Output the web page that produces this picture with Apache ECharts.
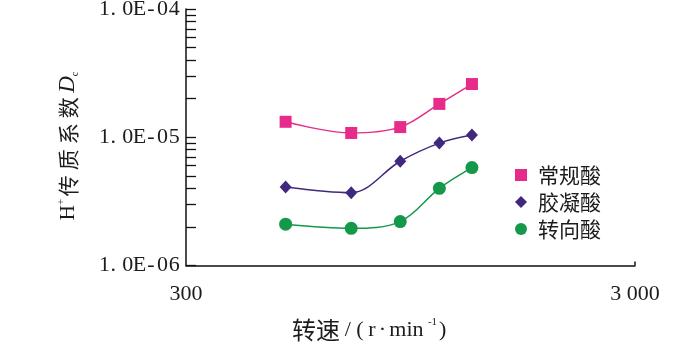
<!DOCTYPE html>
<html>
<head>
<meta charset="utf-8">
<script src="https://cdn.jsdelivr.net/npm/echarts@6/dist/echarts.min.js"></script>
<style>
  html, body { margin: 0; padding: 0; background: #fff; }
  #chart { width: 700px; height: 348px; }
</style>
</head>
<body>
<div id="chart"></div>
<script>
// Rotational speed (r/min) of each measurement
const speeds = [500, 700, 900, 1100, 1300];
const seriesNames = ['常规酸', '胶凝酸', '转向酸'];
// H+ mass transfer coefficient De for each acid system
const conventionalAcid = [1.32e-5, 1.08e-5, 1.20e-5, 1.82e-5, 2.60e-5];
const gelledAcid = [4.1e-6, 3.7e-6, 6.5e-6, 9.0e-6, 1.04e-5];
const divertingAcid = [2.1e-6, 1.95e-6, 2.2e-6, 4.0e-6, 5.8e-6];
// Axis labels
const yTickValues = [1e-6, 1e-5, 1e-4];
const yTickLabels = ['1.0E-06', '1.0E-05', '1.0E-04'];
const xTickValues = [300, 3000];
const xTickLabels = ['300', '3 000'];

const SERIF = 'Liberation Serif';
const CJK = 'Noto Sans CJK SC';
const INK = '#1c1c1c';

// Decade ticks 1..9 x 10^n across the y range
const yTicks = [];
for (let e = -6; e < -4; e++) {
  for (let k = 1; k <= 9; k++) yTicks.push(k * Math.pow(10, e));
}
yTicks.push(1e-4);

// Half-width cell layout: every character centred in its own cell,
// a full stop sits at the left of its cell
function cells(text, key, dotKey) {
  return text.split('').map(function (ch) {
    const k = (ch === '.' && dotKey) ? dotKey : key;
    return '{' + k + '|' + ch + '}';
  }).join('');
}

function pairs(values) {
  return speeds.map(function (s, i) { return [s, values[i]]; });
}

const chart = echarts.init(document.getElementById('chart'), null, { renderer: 'canvas' });

const latin = function (w) {
  return { fontFamily: SERIF, fontSize: 22, fill: INK, width: w, align: 'center', lineHeight: 26 };
};

chart.setOption({
  animation: false,
  backgroundColor: '#fff',
  grid: { left: 186, right: 65, top: 9, bottom: 82.5, containLabel: false, outerBoundsMode: 'none' },
  xAxis: {
    type: 'log',
    logBase: 10,
    min: 300,
    max: 3000,
    axisLine: { show: true, lineStyle: { color: '#111', width: 1.5 } },
    axisTick: { show: true, inside: true, length: 4, customValues: [3000], lineStyle: { color: '#111', width: 1.5 } },
    axisLabel: {
      customValues: xTickValues,
      margin: 18,
      color: INK,
      fontFamily: SERIF,
      fontSize: 22,
      formatter: function (v) {
        const i = xTickValues.findIndex(function (t) { return Math.abs(t - v) / t < 1e-6; });
        return i >= 0 ? xTickLabels[i] : '';
      }
    },
    splitLine: { show: false },
    minorTick: { show: false }
  },
  yAxis: {
    type: 'log',
    logBase: 10,
    min: 1e-6,
    max: 1e-4,
    axisLine: { show: true, lineStyle: { color: '#111', width: 1.5 } },
    axisTick: { show: true, inside: true, length: 10, customValues: yTicks, lineStyle: { color: '#111', width: 1.3 } },
    axisLabel: {
      customValues: yTickValues,
      margin: 6,
      formatter: function (v) {
        const i = yTickValues.findIndex(function (t) { return Math.abs(t - v) / t < 1e-6; });
        return i >= 0 ? cells(yTickLabels[i], 'c', 'p') : '';
      },
      rich: {
        c: { width: 11.6, align: 'center', fontFamily: SERIF, fontSize: 22, color: INK },
        p: { width: 5.6, padding: [0, 6, 0, 0], align: 'center', fontFamily: SERIF, fontSize: 22, color: INK }
      }
    },
    splitLine: { show: false }
  },
  legend: {
    orient: 'vertical',
    left: 510,
    top: 159,
    itemWidth: 12,
    itemHeight: 12,
    itemGap: 5,
    data: [
      { name: seriesNames[0], icon: 'rect' },
      { name: seriesNames[1], icon: 'diamond' },
      { name: seriesNames[2], icon: 'circle' }
    ],
    textStyle: { fontFamily: CJK, fontSize: 21, color: INK, lineHeight: 22, padding: [0, 0, 0, 6] }
  },
  graphic: [
    {
      // y-axis title: H+ 传质系数 De
      type: 'text',
      x: 68,
      y: 146,
      rotation: Math.PI / 2,
      style: {
        text: '{h|H}{sup|+}' + cells('传质系数', 'cn') + '{d|D}{sub|c}',
        align: 'center',
        verticalAlign: 'middle',
        rich: {
          h: { fontFamily: SERIF, fontSize: 21, fill: INK, lineHeight: 24 },
          sup: { fontFamily: SERIF, fontSize: 11, fill: INK, verticalAlign: 'top', lineHeight: 12 },
          cn: { fontFamily: CJK, fontSize: 21, fill: INK, width: 26, align: 'center', lineHeight: 24 },
          d: { fontFamily: SERIF, fontSize: 23, fontStyle: 'italic', fill: INK, lineHeight: 24, padding: [0, 0, 0, 2] },
          sub: { fontFamily: SERIF, fontSize: 10, fill: INK, verticalAlign: 'bottom', lineHeight: 12 }
        }
      }
    },
    {
      // x-axis title: 转速/(r·min-1)
      type: 'text',
      x: 370,
      y: 330,
      style: {
        text: '{cn|转速}{w12|/}{w12|(}{w12|r}{w9|·}{w39|min}{sup|-1}{w11|)}',
        align: 'center',
        verticalAlign: 'middle',
        rich: {
          cn: { fontFamily: CJK, fontSize: 24, fill: INK, lineHeight: 26, padding: [0, 2, 0, 0] },
          w12: latin(12),
          w11: latin(11),
          w9: latin(9),
          w39: latin(39),
          sup: { fontFamily: SERIF, fontSize: 11, fill: INK, verticalAlign: 'top', lineHeight: 14, padding: [0, 0, 0, 2] }
        }
      }
    }
  ],
  series: [
    {
      name: seriesNames[0],
      type: 'line',
      data: pairs(conventionalAcid),
      smooth: 0.35,
      symbol: 'rect',
      symbolSize: 12,
      color: '#e62b8a',
      lineStyle: { width: 1.5 },
      itemStyle: { color: '#e62b8a' }
    },
    {
      name: seriesNames[1],
      type: 'line',
      data: pairs(gelledAcid),
      smooth: 0.35,
      symbol: 'diamond',
      symbolSize: [12, 13],
      color: '#40287f',
      lineStyle: { width: 1.5 },
      itemStyle: { color: '#40287f' }
    },
    {
      name: seriesNames[2],
      type: 'line',
      data: pairs(divertingAcid),
      smooth: 0.35,
      symbol: 'circle',
      symbolSize: 13,
      color: '#14994a',
      lineStyle: { width: 1.5 },
      itemStyle: { color: '#14994a' }
    }
  ]
});
</script>
</body>
</html>
